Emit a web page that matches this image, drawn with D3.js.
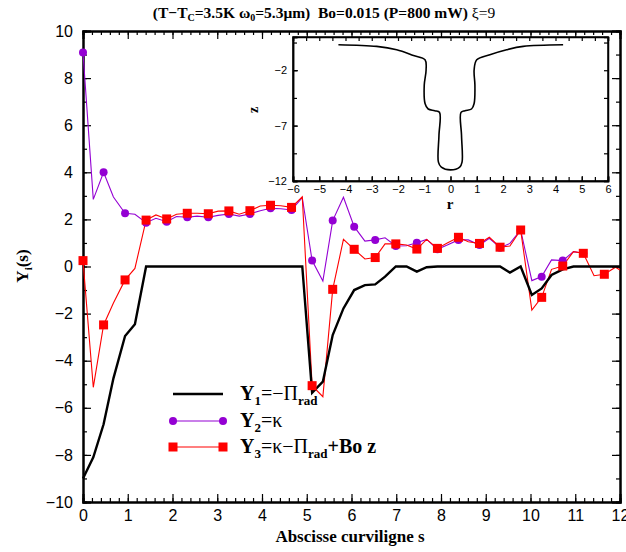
<!DOCTYPE html>
<html>
<head>
<meta charset="utf-8">
<script src="https://cdn.jsdelivr.net/npm/d3@7/dist/d3.min.js"></script>
<style>
body{margin:0;background:#fff}
.tick text{font-family:"Liberation Sans",Arial,sans-serif}
</style>
</head>
<body>
<svg id="chart" width="626" height="552"></svg>
<script>
// abscisse curviligne (shared by the three series)
var sVals = [0, 0.23, 0.46, 0.68, 0.94, 1.16, 1.41, 1.63, 1.87, 2.09, 2.33, 2.55, 2.8, 3.02, 3.26, 3.49,
  3.73, 3.96, 4.19, 4.42, 4.66, 4.9, 5.12, 5.36, 5.58, 5.82, 6.06, 6.3, 6.53, 6.75, 6.99, 7.23, 7.46,
  7.68, 7.92, 8.14, 8.39, 8.61, 8.86, 9.08, 9.32, 9.54, 9.78, 10.03, 10.25, 10.47, 10.72, 10.96,
  11.18, 11.42, 11.65, 11.9, 12.0];
// Y1 = -Pi_rad
var y1Vals = [-9.0, -8.1, -6.7, -4.75, -2.95, -2.45, 0, 0, 0, 0, 0, 0, 0, 0, 0, 0,
  0, 0, 0, 0, 0, 0, -5.36, -4.89, -2.91, -1.78, -1.0, -0.79, -0.76, -0.43, 0, 0, -0.22,
  -0.03, 0, 0, 0, 0, 0, 0, 0, -0.26, 0, -1.21, -0.93, -0.36, -0.12, 0,
  0, 0, 0, 0, 0];
// Y2 = kappa
var y2Vals = [9.09, 2.85, 4.0, 2.95, 2.26, 2.22, 1.86, 2.05, 1.9, 2.12, 2.09, 2.14, 2.09, 2.17, 2.23, 2.14,
  2.23, 2.37, 2.47, 2.45, 2.4, 2.92, 0.25, -0.62, 1.95, 2.94, 1.69, 1.08, 1.13, 1.22, 0.87, 0.88, 1.01,
  1.15, 0.73, 0.91, 1.13, 1.13, 0.91, 1.2, 0.8, 0.98, 1.55, -0.6, -0.43, 0.28, 0.25, 0.63,
  0.56];
// Y3 = kappa - Pi_rad + Bo z
var y3Vals = [0.25, -5.13, -2.48, -1.55, -0.57, -0.08, 1.97, 2.19, 2.02, 2.22, 2.26, 2.26, 2.24, 2.35, 2.36, 2.22,
  2.37, 2.57, 2.6, 2.58, 2.51, 2.96, -5.06, -5.53, -0.97, 1.15, 0.73, 0.32, 0.38, 0.96, 0.96, 0.91, 0.74,
  1.15, 0.77, 1.0, 1.24, 1.05, 0.98, 1.24, 0.82, 0.87, 1.55, -1.85, -1.31, -0.12, 0.02, 0.63,
  0.56, -0.39, -0.33, -0.03, -0.15];

// inset: interface profile z(r)
var insetR = [-4.27, -2.81, -2.05, -1.41, -0.97, -0.93, -1.0, -0.97, -0.85, -0.6, -0.42, -0.44, -0.46, -0.35, 0,
  0.35, 0.44, 0.42, 0.4, 0.55, 0.8, 0.9, 0.93, 0.9, 1.0, 1.5, 2.14, 2.77, 4.29];
var insetZ = [0.3, 0.15, -0.15, -0.67, -1.06, -1.97, -3.34, -5.0, -5.5, -5.65, -5.8, -7.9, -10.3, -10.75, -11.0,
  -10.75, -10.3, -7.9, -5.8, -5.65, -5.5, -5.0, -3.34, -1.97, -1.06, -0.6, -0.15, 0.15, 0.3];

var xTicks = [0, 1, 2, 3, 4, 5, 6, 7, 8, 9, 10, 11, 12];
var yTicks = [-10, -8, -6, -4, -2, 0, 2, 4, 6, 8, 10];
var insetRTicks = [-6, -5, -4, -3, -2, -1, 0, 1, 2, 3, 4, 5, 6];
var insetZTicks = [-12, -7, -2];

var svg = d3.select('#chart');
var serif = '"Liberation Serif","Times New Roman",serif';

var x = d3.scaleLinear().domain([0, 12]).range([83, 620]);
var y = d3.scaleLinear().domain([-10, 10]).range([502, 31]);

function styleAxis(g, w){
  g.select('.domain').attr('stroke', '#000').attr('stroke-width', w);
  g.selectAll('.tick line').attr('stroke', '#000').attr('stroke-width', 1.2);
}
var minusFmt = function(d){ return d < 0 ? '\u2212' + (-d) : d; };

// minor ticks
var xMinor = d3.range(0, 12.001, 0.2);
var yMinor = d3.range(-10, 10.001, 1);

svg.append('g').attr('transform', 'translate(0,502)')
  .call(d3.axisBottom(x).tickValues(xMinor).tickSize(-4).tickFormat(''))
  .call(styleAxis, 2);
svg.append('g').attr('transform', 'translate(0,31)')
  .call(d3.axisTop(x).tickValues(xMinor).tickSize(-4).tickFormat(''))
  .call(styleAxis, 2);
svg.append('g').attr('transform', 'translate(83,0)')
  .call(d3.axisLeft(y).tickValues(yMinor).tickSize(-4).tickFormat(''))
  .call(styleAxis, 2);
svg.append('g').attr('transform', 'translate(620,0)')
  .call(d3.axisRight(y).tickValues(yMinor).tickSize(-4).tickFormat(''))
  .call(styleAxis, 2);

// major ticks
var xAxis = svg.append('g').attr('transform', 'translate(0,502)')
  .call(d3.axisBottom(x).tickValues(xTicks).tickSize(-8).tickPadding(8).tickFormat(d3.format('d')))
  .call(styleAxis, 2);
xAxis.selectAll('text').attr('font-size', 16).attr('fill', '#000');
svg.append('g').attr('transform', 'translate(0,31)')
  .call(d3.axisTop(x).tickValues(xTicks).tickSize(-8).tickFormat(''))
  .call(styleAxis, 2);
var yAxis = svg.append('g').attr('transform', 'translate(83,0)')
  .call(d3.axisLeft(y).tickValues(yTicks).tickSize(-8).tickPadding(10).tickFormat(minusFmt))
  .call(styleAxis, 2);
yAxis.selectAll('text').attr('font-size', 16).attr('fill', '#000');
svg.append('g').attr('transform', 'translate(620,0)')
  .call(d3.axisRight(y).tickValues(yTicks).tickSize(-8).tickFormat(''))
  .call(styleAxis, 2);

// curves
var plot = svg.append('g');
function seriesData(vals){
  return vals.map(function(v, i){ return {s: sVals[i], v: v, i: i}; });
}
function withMarker(d){ return d.i % 2 == 0 && d.s < 12; }
var line = d3.line().x(function(d){ return x(d.s); }).y(function(d){ return y(d.v); });

plot.append('path').datum(seriesData(y2Vals))
  .attr('d', line).attr('fill', 'none').attr('stroke', '#9400d3').attr('stroke-width', 1.1);
plot.append('path').datum(seriesData(y3Vals))
  .attr('d', line).attr('fill', 'none').attr('stroke', '#ff0000').attr('stroke-width', 1.1);
plot.append('path').datum(seriesData(y1Vals))
  .attr('d', line).attr('fill', 'none').attr('stroke', '#000').attr('stroke-width', 2.4);

plot.selectAll('.dot2').data(seriesData(y2Vals).filter(withMarker))
  .enter().append('circle').attr('class', 'dot2')
  .attr('cx', function(d){ return x(d.s); })
  .attr('cy', function(d){ return y(d.v); })
  .attr('r', 4).attr('fill', '#9400d3');
plot.selectAll('.sq3').data(seriesData(y3Vals).filter(withMarker))
  .enter().append('rect').attr('class', 'sq3')
  .attr('x', function(d){ return x(d.s) - 4.5; })
  .attr('y', function(d){ return y(d.v) - 4.5; })
  .attr('width', 9).attr('height', 9).attr('fill', '#ff0000');

// inset
var ix = d3.scaleLinear().domain([-6, 6]).range([293, 608]);
var iy = d3.scaleLinear().domain([-12, 1]).range([181, 37]);
var inset = svg.append('g');
inset.append('rect').attr('x', 293).attr('y', 37).attr('width', 315).attr('height', 144)
  .attr('fill', '#fff').attr('stroke', '#000').attr('stroke-width', 1.5);
var irMinor = d3.range(-6, 6.001, 0.5);
var izMinor = [-12, -9.5, -7, -4.5, -2, 0.5];
inset.append('g').attr('transform', 'translate(0,181)')
  .call(d3.axisBottom(ix).tickValues(irMinor).tickSize(-4).tickFormat(''))
  .call(styleAxis, 1.5);
inset.append('g').attr('transform', 'translate(0,37)')
  .call(d3.axisTop(ix).tickValues(irMinor).tickSize(-4).tickFormat(''))
  .call(styleAxis, 1.5);
inset.append('g').attr('transform', 'translate(293,0)')
  .call(d3.axisLeft(iy).tickValues(izMinor).tickSize(-4).tickFormat(''))
  .call(styleAxis, 1.5);
inset.append('g').attr('transform', 'translate(608,0)')
  .call(d3.axisRight(iy).tickValues(izMinor).tickSize(-4).tickFormat(''))
  .call(styleAxis, 1.5);
var irAxis = inset.append('g').attr('transform', 'translate(0,181)')
  .call(d3.axisBottom(ix).tickValues(insetRTicks).tickSize(-5).tickPadding(4).tickFormat(minusFmt))
  .call(styleAxis, 1.5);
irAxis.selectAll('text').attr('font-size', 11).attr('fill', '#000');
var izAxis = inset.append('g').attr('transform', 'translate(293,0)')
  .call(d3.axisLeft(iy).tickValues(insetZTicks).tickSize(-5).tickPadding(6).tickFormat(minusFmt))
  .call(styleAxis, 1.5);
izAxis.selectAll('text').attr('font-size', 11).attr('fill', '#000');

var profile = insetR.map(function(r, i){ return [r, insetZ[i]]; });
inset.append('path').datum(profile)
  .attr('d', d3.line().curve(d3.curveCatmullRom.alpha(0.5)).x(function(d){ return ix(d[0]); }).y(function(d){ return iy(d[1]); }))
  .attr('fill', 'none').attr('stroke', '#000').attr('stroke-width', 1.6);

inset.append('text').attr('x', 450).attr('y', 209).attr('text-anchor', 'middle')
  .attr('font-family', serif).attr('font-weight', 'bold').attr('font-size', 15).text('r');
inset.append('text').attr('transform', 'translate(258,110) rotate(-90)').attr('text-anchor', 'middle')
  .attr('font-family', serif).attr('font-weight', 'bold').attr('font-size', 14).text('z');

// axis titles
svg.append('text').attr('x', 350).attr('y', 542).attr('text-anchor', 'middle')
  .attr('font-family', serif).attr('font-weight', 'bold').attr('font-size', 17)
  .text('Abscisse curviligne s');
var yt = svg.append('text').attr('transform', 'translate(28,266) rotate(-90)').attr('text-anchor', 'middle')
  .attr('font-family', serif).attr('font-weight', 'bold').attr('font-size', 17);
yt.append('tspan').text('Y');
yt.append('tspan').attr('dy', 4).attr('font-size', 11).text('i');
yt.append('tspan').attr('dy', -4).text('(s)');

// title
var title = svg.append('text').attr('x', 324).attr('y', 18).attr('text-anchor', 'middle')
  .attr('font-family', serif).attr('font-weight', 'bold').attr('font-size', 15.5);
title.append('tspan').text('(T\u2212T');
title.append('tspan').attr('dy', 3).attr('font-size', 10).text('C');
title.append('tspan').attr('dy', -3).text('=3.5K \u03c9');
title.append('tspan').attr('dy', 3).attr('font-size', 10).text('0');
title.append('tspan').attr('dy', -3).text('=5.3\u03bcm)\u00a0 Bo=0.015 (P=800 mW) ');
title.append('tspan').attr('font-weight', 'normal').text('\u03be=9');

// legend
var legend = svg.append('g').attr('font-family', serif).attr('font-weight', 'bold').attr('font-size', 20);
var legY = [394, 421, 447];
legend.append('line').attr('x1', 173).attr('x2', 223).attr('y1', legY[0]).attr('y2', legY[0])
  .attr('stroke', '#000').attr('stroke-width', 2.4);
legend.append('line').attr('x1', 173).attr('x2', 223).attr('y1', legY[1]).attr('y2', legY[1])
  .attr('stroke', '#9400d3').attr('stroke-width', 1.1);
legend.append('line').attr('x1', 173).attr('x2', 223).attr('y1', legY[2]).attr('y2', legY[2])
  .attr('stroke', '#ff0000').attr('stroke-width', 1.1);
[173, 223].forEach(function(px){
  legend.append('circle').attr('cx', px).attr('cy', legY[1]).attr('r', 4).attr('fill', '#9400d3');
  legend.append('rect').attr('x', px - 4.5).attr('y', legY[2] - 4.5).attr('width', 9).attr('height', 9).attr('fill', '#ff0000');
});
var t1 = legend.append('text').attr('x', 240).attr('y', legY[0] + 6);
t1.append('tspan').text('Y');
t1.append('tspan').attr('dy', 5).attr('font-size', 13).text('1');
t1.append('tspan').attr('dy', -5).attr('font-weight', 'normal').text('=\u2212\u03a0');
t1.append('tspan').attr('dy', 5).attr('font-size', 13).text('rad');
var t2 = legend.append('text').attr('x', 240).attr('y', legY[1] + 6);
t2.append('tspan').text('Y');
t2.append('tspan').attr('dy', 5).attr('font-size', 13).text('2');
t2.append('tspan').attr('dy', -5).attr('font-weight', 'normal').text('=\u03ba');
var t3 = legend.append('text').attr('x', 240).attr('y', legY[2] + 6);
t3.append('tspan').text('Y');
t3.append('tspan').attr('dy', 5).attr('font-size', 13).text('3');
t3.append('tspan').attr('dy', -5).attr('font-weight', 'normal').text('=\u03ba\u2212\u03a0');
t3.append('tspan').attr('dy', 5).attr('font-size', 13).text('rad');
t3.append('tspan').attr('dy', -5).text('+Bo z');
</script>
</body>
</html>
